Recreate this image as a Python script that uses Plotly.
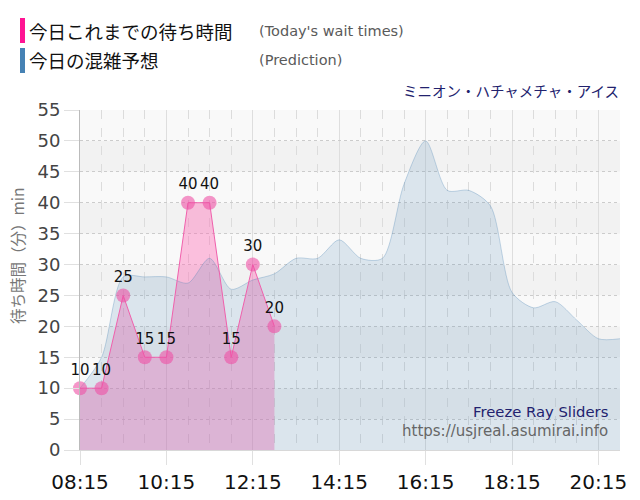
import plotly.graph_objects as go

DAY = "2024-01-01 "
wait_times = ["08:15", "08:45", "09:15", "09:45", "10:15", "10:45", "11:15", "11:45", "12:15", "12:45"]
wait_values = [10, 10, 25, 15, 15, 40, 40, 15, 30, 20]

pred_times = ["08:15", "08:45", "09:15", "09:45", "10:15", "10:45", "11:15", "11:45", "12:15", "12:45",
              "13:15", "13:45", "14:15", "14:45", "15:15", "15:45", "16:15", "16:45", "17:15", "17:45",
              "18:15", "18:45", "19:15", "19:45", "20:15", "20:45"]
pred_values = [10, 15, 28, 28, 28, 27, 31, 26, 27.5, 28.5,
               31, 31, 34, 31, 31, 43, 50, 42, 42, 39.5,
               25.5, 23, 24, 21, 18, 18]

x_ticks = ["08:15", "10:15", "12:15", "14:15", "16:15", "18:15", "20:15"]
y_ticks = list(range(0, 60, 5))

title_text = "ミニオン・ハチャメチャ・アイス"
legend_items = [("今日これまでの待ち時間", "(Today's wait times)", "#ff1493"),
                ("今日の混雑予想", "(Prediction)", "#4682b4")]
ytitle = "待ち時間（分）min"
watermark1 = "Freeze Ray Sliders"
watermark2 = "https://usjreal.asumirai.info"

wx = [DAY + t for t in wait_times]
px_ = [DAY + t for t in pred_times]

L, R, T, B = 80, 20, 110, 50
W, H = 640, 500
PW, PH = W - L - R, H - T - B


def xp(px):
    return (px - L) / PW


def yp(py):
    return (H - B - py) / PH


fig = go.Figure()
fig.add_trace(go.Scatter(x=wx, y=wait_values, mode="none", fill="tozeroy",
                         fillcolor="rgba(255,105,180,0.40)", hoverinfo="skip", showlegend=False))
fig.add_trace(go.Scatter(x=px_, y=pred_values, mode="lines", fill="tozeroy",
                         line=dict(color="rgba(70,130,180,0.30)", width=1, shape="spline", smoothing=0.8),
                         fillcolor="rgba(70,130,180,0.17)", showlegend=False))
fig.add_trace(go.Scatter(x=wx, y=wait_values, mode="lines+markers+text",
                         line=dict(color="#f060ac", width=1),
                         marker=dict(color="rgba(238,80,165,0.6)", size=14),
                         text=[str(v) for v in wait_values], textposition="top center",
                         textfont=dict(family="DejaVu Sans", size=15, color="#111"),
                         cliponaxis=False, showlegend=False))

shapes = []
for k in range(11):
    color = "#f9f9f9" if k % 2 == 0 else "#f2f2f2"
    shapes.append(dict(type="rect", xref="paper", yref="y", x0=0, x1=1, y0=5 * k, y1=5 * k + 5,
                       fillcolor=color, line=dict(width=0), layer="below"))
shapes.append(dict(type="rect", xref="paper", yref="paper", x0=xp(20), x1=xp(25), y0=yp(43), y1=yp(18),
                   fillcolor=legend_items[0][2], line=dict(width=0)))
shapes.append(dict(type="rect", xref="paper", yref="paper", x0=xp(20), x1=xp(25), y0=yp(73), y1=yp(48),
                   fillcolor=legend_items[1][2], line=dict(width=0)))

annotations = []
for i, (jp, en, c) in enumerate(legend_items):
    cy = 31 + 29 * i
    annotations.append(dict(x=xp(27), y=yp(cy), xref="paper", yref="paper", text=jp, showarrow=False,
                            xanchor="left", yanchor="middle",
                            font=dict(family="Noto Sans CJK JP", size=18.5, color="#111")))
    annotations.append(dict(x=xp(257), y=yp(cy), xref="paper", yref="paper", text=en, showarrow=False,
                            xanchor="left", yanchor="middle",
                            font=dict(family="DejaVu Sans", size=14.5, color="#5a5a5a")))
annotations.append(dict(x=xp(621), y=yp(90), xref="paper", yref="paper", text=title_text, showarrow=False,
                        xanchor="right", yanchor="middle",
                        font=dict(family="Noto Sans CJK JP", size=14.5, color="#22226e")))
annotations.append(dict(x=xp(17), y=yp(256), xref="paper", yref="paper", text=ytitle, showarrow=False,
                        xanchor="center", yanchor="middle", textangle=-90,
                        font=dict(family="Noto Sans CJK JP", size=15.5, color="#777")))
annotations.append(dict(x=xp(610), y=yp(411), xref="paper", yref="paper", text=watermark1, showarrow=False,
                        xanchor="right", yanchor="middle",
                        font=dict(family="DejaVu Sans", size=14.8, color="#22226e")))
annotations.append(dict(x=xp(610), y=yp(431), xref="paper", yref="paper", text=watermark2, showarrow=False,
                        xanchor="right", yanchor="middle",
                        font=dict(family="DejaVu Sans", size=15, color="#666")))

fig.update_layout(
    width=W, height=H, margin=dict(l=L, r=R, t=T, b=B, autoexpand=False),
    paper_bgcolor="white", plot_bgcolor="white",
    shapes=shapes, annotations=annotations,
    xaxis=dict(type="date", range=[DAY + "08:15", DAY + "20:45"],
               tickvals=[DAY + t for t in x_ticks], ticktext=x_ticks,
               tickfont=dict(family="DejaVu Sans", size=20, color="#111"),
               ticks="outside", ticklen=14, tickcolor="#e0e0e0",
               showgrid=True, gridcolor="#dedede", gridwidth=1,
               minor=dict(dtick=1800000, tick0=DAY + "08:15", showgrid=True, griddash="dash",
                          gridcolor="#dcdcdc", gridwidth=1, ticks=""),
               showline=True, linecolor="#d8d8d8", zeroline=False, automargin=False),
    yaxis=dict(range=[0, 55], tickvals=y_ticks,
               tickfont=dict(family="DejaVu Sans", size=18, color="#444"),
               ticks="outside", ticklen=15, tickcolor="#e0e0e0",
               showgrid=True, gridcolor="#cccccc", griddash="dot", gridwidth=1,
               showline=True, linecolor="#bbbbbb", zeroline=False, automargin=False),
)

fig.write_html("out.html")
